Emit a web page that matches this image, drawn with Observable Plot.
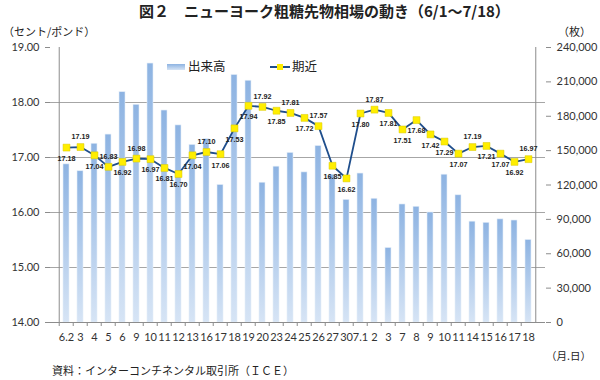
<!DOCTYPE html>
<html><head><meta charset="utf-8">
<script src="https://cdn.jsdelivr.net/npm/d3@7"></script>
<script src="https://cdn.jsdelivr.net/npm/@observablehq/plot@0.6"></script>
<style>
body{margin:0;background:#fff;}
#wrap{position:relative;width:600px;height:380px;font-family:"Noto Sans CJK JP",sans-serif;color:#222;}
.t{position:absolute;white-space:nowrap;line-height:1;}
</style></head><body><div id="wrap"></div>
<script>
// ---- data ----
const dates = ["6.2","3","4","5","6","9","10","11","12","13","16","17","18","19","20","23","24","25","26","27","30","7.1","2","3","7","8","9","10","11","14","15","16","17","18"];
const price = [17.18,17.19,17.04,16.83,16.92,16.98,16.97,16.81,16.70,17.04,17.10,17.06,17.53,17.94,17.92,17.85,17.81,17.72,17.57,16.85,16.62,17.80,17.87,17.81,17.51,17.68,17.42,17.29,17.07,17.19,17.21,17.07,16.92,16.97];
const volume = [138000,132000,156000,164000,201000,190000,226000,185000,172000,155000,160000,120000,216000,211000,122000,136000,148000,131000,154000,129000,107000,130000,108000,65000,103000,101000,96000,129000,111000,88000,87000,90000,89000,72000];
const priceTicks = [14,15,16,17,18,19];
const gridTicks = [15,16,17,18];
const volumeTicks = [0,30000,60000,90000,120000,150000,180000,210000,240000];
const labelAbove = [1,3,5,10,14,16,18,22,29,33];

// ---- chart ----
const pMin = 14, pMax = 19, vMax = 240000;
const toP = v => pMin + v / vMax * (pMax - pMin);
const fromP = p => (p - pMin) / (pMax - pMin) * vMax;
const idx = dates.map((d, i) => i);
const rows = idx.map(i => ({i, price: price[i], volP: toP(volume[i]), above: labelAbove.includes(i)}));

const W = 600, H = 380, mL = 50, mR = 55, mT = 47, mB = 58;
const step = (W - mL - mR) / dates.length;

const chart = Plot.plot({
  width: W, height: H, marginTop: mT, marginBottom: mB, marginLeft: mL, marginRight: mR,
  style: {fontFamily: "Lato, sans-serif", fontSize: "11px", color: "#333", background: "transparent", overflow: "visible"},
  x: {type: "band", domain: idx, paddingInner: 0.57, paddingOuter: 0.285},
  y: {domain: [pMin, pMax]},
  marks: [
    Plot.ruleY(gridTicks, {stroke: "#a6a6a6", strokeWidth: 1}),
    Plot.barY(rows, {x: "i", y1: pMin, y2: "volP", fill: "url(#volGrad)", stroke: "#e3edf8", strokeWidth: 0.6}),
    Plot.ruleY([pMin], {stroke: "#8c8c8c"}),
    Plot.ruleX([0], {dx: -step / 2, stroke: "#8c8c8c"}),
    Plot.ruleX([idx.length - 1], {dx: step / 2, stroke: "#8c8c8c"}),
    Plot.axisY({anchor: "left", ticks: priceTicks, tickFormat: d => d.toFixed(2), tickSize: 5, tickPadding: 6, label: null, stroke: "#8c8c8c", fill: "#333"}),
    Plot.axisY({anchor: "right", ticks: volumeTicks.map(toP), tickFormat: p => d3.format(",")(Math.round(fromP(p))), tickSize: 5, tickPadding: 6, label: null, stroke: "#8c8c8c", fill: "#333"}),
    Plot.axisX({ticks: idx, tickFormat: i => dates[i], tickSize: 0, tickPadding: 11, label: null, fill: "#333"}),
    Plot.axisX({ticks: idx, tickFormat: () => "", tickSize: 4, dx: -step / 2, label: null, stroke: "#8c8c8c"}),
    Plot.line(rows, {x: "i", y: "price", stroke: "#1f4e8c", strokeWidth: 1.8}),
    Plot.dot(rows, {x: "i", y: "price", symbol: "square", r: 3.9, fill: "#ffee00", stroke: "#d9c900", strokeWidth: 0.5}),
    Plot.text(rows.filter(d => d.above), {x: "i", y: "price", text: d => d.price.toFixed(2), dy: -10, fontSize: 7.2, fontWeight: "bold", fill: "#222", fontFamily: "Liberation Sans, sans-serif"}),
    Plot.text(rows.filter(d => !d.above), {x: "i", y: "price", text: d => d.price.toFixed(2), dy: 11, fontSize: 7.2, fontWeight: "bold", fill: "#222", fontFamily: "Liberation Sans, sans-serif"})
  ]
});

const defs = d3.select(chart).insert("defs", ":first-child");
const g = defs.append("linearGradient").attr("id", "volGrad").attr("x1", 0).attr("y1", 0).attr("x2", 0).attr("y2", 1);
g.append("stop").attr("offset", "0%").attr("stop-color", "#8db3e2");
g.append("stop").attr("offset", "100%").attr("stop-color", "#d6e4f5");

const wrap = document.getElementById("wrap");
wrap.appendChild(chart);
chart.style.position = "absolute"; chart.style.left = "0"; chart.style.top = "0";

function addText(txt, css) {
  const el = document.createElement("div");
  el.className = "t"; el.textContent = txt;
  Object.assign(el.style, css);
  wrap.appendChild(el);
  return el;
}
addText("図２　ニューヨーク粗糖先物相場の動き（6/1～7/18）", {left: "139px", top: "3px", fontSize: "15px", fontWeight: "bold", color: "#222"});
addText("（セント/ポンド）", {left: "3px", top: "26px", fontSize: "11px", color: "#222"});
addText("（枚）", {left: "558px", top: "26px", fontSize: "11px", color: "#222"});
addText("（月.日）", {left: "546px", top: "351px", fontSize: "10.5px", color: "#222"});
addText("資料：インターコンチネンタル取引所（ＩＣＥ）", {left: "52px", top: "365px", fontSize: "11px", color: "#222"});

// legend
const sw = document.createElement("div");
Object.assign(sw.style, {position: "absolute", left: "167px", top: "64px", width: "18px", height: "6px", background: "linear-gradient(#8db3e2,#d6e4f5)"});
wrap.appendChild(sw);
addText("出来高", {left: "188px", top: "60px", fontSize: "12.5px", color: "#222"});
const ln = document.createElement("div");
Object.assign(ln.style, {position: "absolute", left: "270px", top: "66px", width: "20px", height: "2px", background: "#1f4e8c"});
wrap.appendChild(ln);
const mk = document.createElement("div");
Object.assign(mk.style, {position: "absolute", left: "277px", top: "64px", width: "6px", height: "6px", background: "#ffee00"});
wrap.appendChild(mk);
addText("期近", {left: "292px", top: "60px", fontSize: "12.5px", color: "#222"});
</script></body></html>
